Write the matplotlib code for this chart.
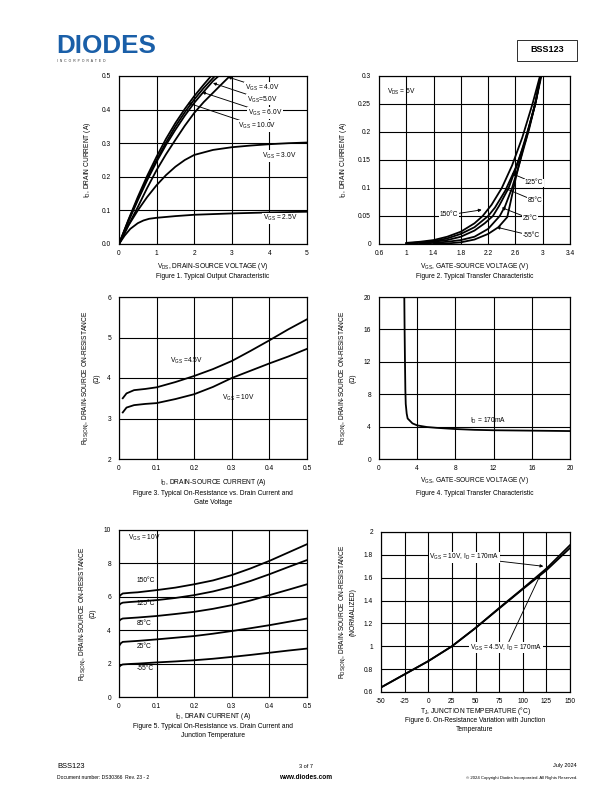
import matplotlib
matplotlib.use("Agg")
import matplotlib.pyplot as plt
from matplotlib.patches import Rectangle

plt.rcParams['font.family'] = ['Liberation Sans', 'DejaVu Sans']
plt.rcParams['mathtext.fontset'] = 'custom'
plt.rcParams['mathtext.rm'] = 'Liberation Sans'
plt.rcParams['mathtext.it'] = 'Liberation Sans'

# Figure 1 - output characteristic
f1_vds = {
    '10': [0, 0.25, 0.5, 0.75, 1.0, 1.25, 1.5, 1.75, 2.0, 2.25, 2.45],
    '6': [0, 0.25, 0.5, 0.75, 1.0, 1.25, 1.5, 1.75, 2.0, 2.25, 2.55],
    '5': [0, 0.25, 0.5, 0.75, 1.0, 1.25, 1.5, 1.75, 2.0, 2.25, 2.5, 2.65],
    '4': [0, 0.25, 0.5, 0.75, 1.0, 1.25, 1.5, 1.75, 2.0, 2.25, 2.5, 2.75, 2.95],
    '3': [0, 0.25, 0.5, 0.75, 1.0, 1.25, 1.5, 1.75, 2.0, 2.5, 3.0, 3.5, 4.0, 4.5, 5.0],
    '2.5': [0, 0.15, 0.3, 0.5, 0.65, 0.8, 1.0, 1.5, 2.0, 2.5, 3.0, 4.0, 5.0],
}
f1_id = {
    '10': [0, 0.072, 0.14, 0.203, 0.26, 0.313, 0.36, 0.402, 0.44, 0.474, 0.5],
    '6': [0, 0.07, 0.135, 0.195, 0.25, 0.302, 0.35, 0.392, 0.43, 0.464, 0.5],
    '5': [0, 0.067, 0.13, 0.19, 0.245, 0.295, 0.34, 0.382, 0.42, 0.453, 0.485, 0.5],
    '4': [0, 0.056, 0.11, 0.167, 0.22, 0.267, 0.31, 0.352, 0.39, 0.422, 0.45, 0.478, 0.5],
    '3': [0, 0.055, 0.1, 0.14, 0.175, 0.205, 0.23, 0.25, 0.265, 0.28, 0.288, 0.293, 0.297, 0.3, 0.302],
    '2.5': [0, 0.025, 0.045, 0.062, 0.07, 0.075, 0.078, 0.083, 0.087, 0.089, 0.091, 0.094, 0.096],
}

# Figure 2 - transfer characteristic
f2_vgs = {
    '150': [1.0, 1.2, 1.4, 1.6, 1.8, 2.0, 2.12, 2.25, 2.4, 2.55, 2.7, 2.85, 2.96],
    '125': [1.0, 1.2, 1.4, 1.6, 1.8, 2.0, 2.2, 2.3, 2.45, 2.6, 2.75, 2.88, 2.97],
    '85': [1.0, 1.2, 1.4, 1.6, 1.8, 2.0, 2.15, 2.27, 2.36, 2.5, 2.65, 2.8, 2.9, 2.97],
    '25': [1.2, 1.4, 1.6, 1.8, 2.0, 2.2, 2.37, 2.45, 2.55, 2.65, 2.8, 2.9, 2.98],
    '-55': [1.4, 1.6, 1.8, 2.0, 2.2, 2.35, 2.48, 2.52, 2.6, 2.7, 2.8, 2.9, 2.97],
}
f2_id = {
    '150': [0.002, 0.004, 0.007, 0.013, 0.022, 0.037, 0.05, 0.07, 0.1, 0.14, 0.19, 0.25, 0.3],
    '125': [0.001, 0.003, 0.005, 0.01, 0.018, 0.03, 0.05, 0.065, 0.095, 0.135, 0.185, 0.245, 0.3],
    '85': [0.0, 0.002, 0.004, 0.007, 0.013, 0.024, 0.037, 0.05, 0.068, 0.1, 0.15, 0.21, 0.255, 0.3],
    '25': [0.0, 0.002, 0.004, 0.007, 0.013, 0.027, 0.05, 0.068, 0.1, 0.14, 0.205, 0.255, 0.3],
    '-55': [0.0, 0.001, 0.003, 0.008, 0.018, 0.03, 0.048, 0.07, 0.115, 0.165, 0.21, 0.255, 0.3],
}

# Figure 3 - on-resistance vs drain current, gate voltage
f3_id = [0.01, 0.02, 0.04, 0.07, 0.1, 0.15, 0.2, 0.25, 0.3, 0.35, 0.4, 0.45, 0.5]
f3_r45 = [3.5, 3.62, 3.7, 3.73, 3.77, 3.9, 4.05, 4.22, 4.42, 4.67, 4.93, 5.2, 5.45]
f3_r10 = [3.15, 3.27, 3.33, 3.36, 3.38, 3.48, 3.6, 3.78, 4.0, 4.18, 4.36, 4.53, 4.72]

# Figure 4 - on-resistance vs gate voltage
f4_vgs = [2.65, 2.68, 2.72, 2.76, 2.8, 2.9, 3.0, 3.5, 4.0, 5.0, 6.0, 8.0, 10.0, 12.0, 16.0, 20.0]
f4_r = [20.0, 16.0, 12.0, 8.5, 6.8, 5.6, 5.0, 4.4, 4.15, 3.95, 3.85, 3.7, 3.6, 3.55, 3.5, 3.45]

# Figure 5 - on-resistance vs drain current, temperature
f5_id = [0, 0.005, 0.01, 0.03, 0.05, 0.1, 0.15, 0.2, 0.25, 0.3, 0.35, 0.4, 0.45, 0.5]
f5_r = {
    '150': [6.0, 6.12, 6.2, 6.24, 6.27, 6.4, 6.55, 6.75, 6.98, 7.3, 7.7, 8.15, 8.65, 9.15],
    '125': [5.5, 5.6, 5.65, 5.69, 5.72, 5.8, 5.93, 6.1, 6.32, 6.6, 6.95, 7.35, 7.78, 8.2],
    '85': [4.55, 4.65, 4.7, 4.73, 4.76, 4.85, 4.97, 5.1, 5.28, 5.5, 5.78, 6.1, 6.42, 6.75],
    '25': [3.05, 3.22, 3.3, 3.33, 3.36, 3.45, 3.55, 3.65, 3.79, 3.95, 4.12, 4.3, 4.5, 4.7],
    '-55': [1.8, 1.9, 1.95, 1.98, 2.0, 2.07, 2.13, 2.2, 2.29, 2.4, 2.52, 2.65, 2.78, 2.9],
}

# Figure 6 - normalized on-resistance vs junction temperature
f6_t = [-50, -25, 0, 25, 50, 75, 100, 125, 150]
f6_r10 = [0.64, 0.755, 0.87, 1.0, 1.16, 1.335, 1.505, 1.68, 1.885]
f6_r45 = [0.64, 0.755, 0.87, 1.0, 1.16, 1.33, 1.5, 1.665, 1.86]

fig = plt.figure(figsize=(8.5, 11), dpi=72)
W, H = 612.0, 792.0
FS = 6.6
LW = 1.8


def make_ax(l, t, r, b, xlim, ylim, xticks, yticks, xfmt, yfmt):
    ax = fig.add_axes([l / W, 1 - b / H, (r - l) / W, (b - t) / H])
    ax.set_xlim(xlim)
    ax.set_ylim(ylim)
    ax.set_xticks(xticks)
    ax.set_yticks(yticks)
    ax.set_xticklabels([xfmt(v) for v in xticks], fontsize=FS)
    ax.set_yticklabels([yfmt(v) for v in yticks], fontsize=FS)
    ax.tick_params(axis='y', length=0, pad=8)
    ax.tick_params(axis='x', length=0, pad=6)
    ax.grid(True, color='black', linewidth=1.1)
    for s in ax.spines.values():
        s.set_linewidth(1.2)
    ax._box = (t, b)
    return ax


def xlab(ax, txt, ypix):
    t, b = ax._box
    ax.set_xlabel(txt, fontsize=FS, va='center')
    ax.xaxis.set_label_coords(0.5, -(ypix - b) / (b - t))


def g(v):
    return '%g' % v


def arrow(ax, txt, xy, xytext):
    ax.annotate(txt, xy=xy, xytext=xytext, fontsize=FS, va='center', ha='left',
                arrowprops=dict(arrowstyle='-|>', color='black', lw=0.9,
                                mutation_scale=6, shrinkA=0, shrinkB=0),
                bbox=dict(fc='white', ec='none', pad=0.5))


def caption(x, y, txt):
    fig.text(x / W, 1 - y / H, txt, fontsize=FS, ha='center', va='top',
             linespacing=1.25)


# Figure 1
ax = make_ax(119, 76, 307, 244, (0, 5), (0, 0.5), [0, 1, 2, 3, 4, 5],
             [0, 0.1, 0.2, 0.3, 0.4, 0.5], g, lambda v: '%.1f' % v)
for k in f1_vds:
    ax.plot(f1_vds[k], f1_id[k], color='black', lw=LW, clip_on=True)
arrow(ax, r'V$_{\rm GS}$ = 4.0V', (2.9, 0.497), (3.35, 0.464))
arrow(ax, r'V$_{\rm GS}$=5.0V', (2.5, 0.479), (3.4, 0.43))
arrow(ax, r'V$_{\rm GS}$ = 6.0V', (2.21, 0.452), (3.43, 0.39))
arrow(ax, r'V$_{\rm GS}$ = 10.0V', (1.83, 0.42), (3.16, 0.351))
ax.text(3.8, 0.262, r'V$_{\rm GS}$ = 3.0V', fontsize=FS, va='center',
        bbox=dict(fc='white', ec='none', pad=0.5))
ax.text(3.83, 0.077, r'V$_{\rm GS}$ = 2.5V', fontsize=FS, va='center',
        bbox=dict(fc='white', ec='none', pad=0.5))
xlab(ax, r'V$_{\rm DS}$, DRAIN-SOURCE VOLTAGE (V)', 267)
ax.set_ylabel(r'I$_{\rm D}$, DRAIN CURRENT (A)', fontsize=FS, labelpad=9)
caption(213, 273.5, 'Figure 1. Typical Output Characteristic')

# Figure 2
ax = make_ax(379, 76, 570, 244, (0.6, 3.4), (0, 0.3),
             [0.6, 1, 1.4, 1.8, 2.2, 2.6, 3, 3.4],
             [0, 0.05, 0.1, 0.15, 0.2, 0.25, 0.3], g, g)
for k in f2_vgs:
    ax.plot(f2_vgs[k], f2_id[k], color='black', lw=LW)
ax.text(0.72, 0.271, r'V$_{\rm DS}$ = 5V', fontsize=FS, va='center')
arrow(ax, '125°C', (2.545, 0.126), (2.74, 0.109))
arrow(ax, '85°C', (2.447, 0.0995), (2.78, 0.077))
arrow(ax, '25°C', (2.40, 0.065), (2.71, 0.045))
arrow(ax, '-55°C', (2.325, 0.030), (2.71, 0.015))
arrow(ax, '150°C', (2.105, 0.061), (1.49, 0.052))
xlab(ax, r'V$_{\rm GS}$, GATE-SOURCE VOLTAGE (V)', 267)
ax.set_ylabel(r'I$_{\rm D}$, DRAIN CURRENT (A)', fontsize=FS, labelpad=9)
caption(475, 273.5, 'Figure 2. Typical Transfer Characteristic')

rlabel = r'R$_{\rm DS(ON)}$, DRAIN-SOURCE ON-RESISTANCE' + '\n(Ω)'

# Figure 3
ax = make_ax(119, 297, 307, 459, (0, 0.5), (2, 6), [0, 0.1, 0.2, 0.3, 0.4, 0.5],
             [2, 3, 4, 5, 6], g, g)
ax.plot(f3_id, f3_r45, color='black', lw=LW)
ax.plot(f3_id, f3_r10, color='black', lw=LW)
ax.text(0.136, 4.42, r'V$_{\rm GS}$ =4.5V', fontsize=FS, va='center')
ax.text(0.273, 3.52, r'V$_{\rm GS}$ = 10V', fontsize=FS, va='center')
xlab(ax, r'I$_{\rm D}$, DRAIN-SOURCE CURRENT (A)', 482)
ax.set_ylabel(rlabel, fontsize=FS, labelpad=7, linespacing=1.4)
caption(213, 490.5, 'Figure 3. Typical On-Resistance vs. Drain Current and\nGate Voltage')

# Figure 4
ax = make_ax(379, 297, 570, 459, (0, 20), (0, 20), [0, 4, 8, 12, 16, 20],
             [0, 4, 8, 12, 16, 20], g, g)
ax.plot(f4_vgs, f4_r, color='black', lw=LW)
ax.text(9.53, 4.73, r'I$_{\rm D}$ = 170mA', fontsize=FS, va='center')
xlab(ax, r'V$_{\rm GS}$, GATE-SOURCE VOLTAGE (V)', 480)
ax.set_ylabel(rlabel, fontsize=FS, labelpad=7, linespacing=1.4)
caption(475, 490.5, 'Figure 4. Typical Transfer Characteristic')

# Figure 5
ax = make_ax(119, 530, 307, 697, (0, 0.5), (0, 10), [0, 0.1, 0.2, 0.3, 0.4, 0.5],
             [0, 2, 4, 6, 8, 10], g, g)
for k in f5_r:
    ax.plot(f5_id, f5_r[k], color='black', lw=LW)
ax.text(0.025, 9.5, r'V$_{\rm GS}$ = 10V', fontsize=FS, va='center')
for lab, yy in [('150°C', 6.96), ('125°C', 5.57), ('85°C', 4.41),
                ('25°C', 3.05), ('-55°C', 1.72)]:
    ax.text(0.047, yy, lab, fontsize=FS, va='center')
xlab(ax, r'I$_{\rm D}$, DRAIN CURRENT (A)', 717)
ax.set_ylabel(rlabel, fontsize=FS, labelpad=7, linespacing=1.4)
caption(213, 723.5, 'Figure 5. Typical On-Resistance vs. Drain Current and\nJunction Temperature')

# Figure 6
ax = make_ax(381, 532, 570, 692, (-50, 150), (0.6, 2),
             [-50, -25, 0, 25, 50, 75, 100, 125, 150],
             [0.6, 0.8, 1, 1.2, 1.4, 1.6, 1.8, 2], g, g)
ax.plot(f6_t, f6_r10, color='black', lw=LW)
ax.plot(f6_t, f6_r45, color='black', lw=LW)
arrow(ax, r'V$_{\rm GS}$ = 10V, I$_{\rm D}$ = 170mA', (121.8, 1.70), (1.1, 1.78))
arrow(ax, r'V$_{\rm GS}$ = 4.5V, I$_{\rm D}$ = 170mA', (118.3, 1.62), (44.2, 0.99))
xlab(ax, r'T$_{\rm J}$, JUNCTION TEMPERATURE (°C)', 711)
ax.set_ylabel(r'R$_{\rm DS(ON)}$, DRAIN-SOURCE ON-RESISTANCE' + '\n(NORMALIZED)',
              fontsize=FS, labelpad=7, linespacing=1.4)
caption(475, 717.5, 'Figure 6. On-Resistance Variation with Junction\nTemperature')

# header
fig.text(56 / W, 1 - 46 / H, 'DIODES', fontsize=26, fontweight='bold',
         color='#1a5fa8', va='center', ha='left', family='Liberation Sans')
fig.text(57 / W, 1 - 61 / H, 'I  N  C  O  R  P  O  R  A  T  E  D', fontsize=3.4,
         color='#333333', va='center', ha='left')
fig.text(547 / W, 1 - 50 / H, 'BSS123', fontsize=9, fontweight='bold',
         ha='center', va='center')
fig.patches.append(Rectangle((517 / W, 1 - 61 / H), 60 / W, 21 / H,
                             transform=fig.transFigure, fill=False,
                             ec='black', lw=0.8))

# footer
fig.text(57 / W, 1 - 767 / H, 'BSS123', fontsize=7.5, va='center')
fig.text(57 / W, 1 - 777.5 / H, 'Document number: DS30366  Rev. 23 - 2',
         fontsize=5, va='center')
fig.text(306 / W, 1 - 766 / H, '3 of 7', fontsize=5.5, va='center', ha='center')
fig.text(306 / W, 1 - 777.5 / H, 'www.diodes.com', fontsize=6.5,
         fontweight='bold', va='center', ha='center')
fig.text(577 / W, 1 - 766 / H, 'July 2024', fontsize=5.5, va='center', ha='right')
fig.text(577 / W, 1 - 777.5 / H,
         '© 2024 Copyright Diodes Incorporated. All Rights Reserved.',
         fontsize=4.3, va='center', ha='right')

fig.savefig('out.png', dpi=72)
